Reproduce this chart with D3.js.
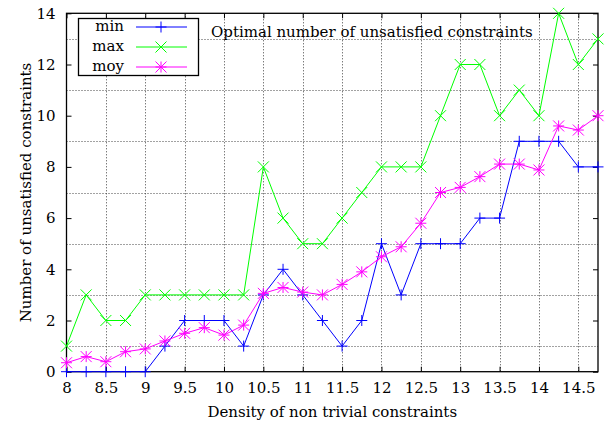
<!DOCTYPE html>
<html><head><meta charset="utf-8">
<script src="https://cdn.jsdelivr.net/npm/d3@7"></script>
<style>
html,body{margin:0;padding:0;background:#fff;}
svg{display:block;}
svg text{font-family:"DejaVu Serif",serif;}
</style></head>
<body><svg id="c" width="608" height="424"></svg>
<script>
const xValues = [8,8.25,8.5,8.75,9,9.25,9.5,9.75,10,10.25,10.5,10.75,11,11.25,11.5,11.75,12,12.25,12.5,12.75,13,13.25,13.5,13.75,14,14.25,14.5,14.75];
const minValues = [0,0,0,0,0,1,2,2,2,1,3,4,3,2,1,2,5,3,5,5,5,6,6,9,9,9,8,8];
const maxValues = [1,3,2,2,3,3,3,3,3,3,8,6,5,5,6,7,8,8,8,10,12,12,10,11,10,14,12,13];
const moyValues = [0.35,0.59,0.39,0.78,0.89,1.2,1.5,1.72,1.43,1.82,3.06,3.29,3.11,3.0,3.41,3.9,4.49,4.88,5.8,7.0,7.2,7.62,8.11,8.11,7.88,9.6,9.44,10.0];
const xTicks = [8,8.5,9,9.5,10,10.5,11,11.5,12,12.5,13,13.5,14,14.5];
const yTicks = [0,2,4,6,8,10,12,14];
const yGrid = [1,3,5,7,9,11,13];
const seriesNames = ["min","max","moy"];
const seriesColors = ["#0000ff","#00ff00","#ff00ff"];
const seriesMarkers = ["plus","cross","star"];
const titleText = "Optimal number of unsatisfied constraints";
const xLabel = "Density of non trivial constraints";
const yLabel = "Number of unsatisfied constraints";

const svg = d3.select("#c");
const L = 66.5, R = 598, T = 13.3, B = 371.7;
const x = d3.scaleLinear().domain([8,14.75]).range([L,R]);
const y = d3.scaleLinear().domain([0,14]).range([B,T]);
const FS = 15;
const FF = "DejaVu Serif";

const g = svg.append("g");
g.selectAll("line.vg").data(xTicks.slice(1)).join("line")
  .attr("x1",d=>Math.round(x(d))+0.5).attr("x2",d=>Math.round(x(d))+0.5)
  .attr("y1",T).attr("y2",B)
  .attr("stroke","#444").attr("stroke-width",1).attr("stroke-dasharray","1,2");
g.selectAll("line.hg").data(yGrid).join("line")
  .attr("y1",d=>Math.round(y(d))+0.5).attr("y2",d=>Math.round(y(d))+0.5)
  .attr("x1",L).attr("x2",R)
  .attr("stroke","#444").attr("stroke-width",1).attr("stroke-dasharray","1,2");

const axB = d3.axisBottom(x).tickValues(xTicks).tickSize(-5).tickPadding(11).tickFormat(d3.format("~g"));
const axT = d3.axisTop(x).tickValues(xTicks).tickSize(-5).tickFormat("");
const axL = d3.axisLeft(y).tickValues(yTicks).tickSize(-5).tickPadding(11).tickFormat(d3.format("d"));
const axR = d3.axisRight(y).tickValues(yTicks).tickSize(-5).tickFormat("");
function style(sel){
  sel.attr("font-family",FF);
  sel.select(".domain").remove();
  sel.selectAll("line").attr("stroke","#000");
  sel.selectAll("text").attr("font-size",FS).attr("font-family",FF).attr("fill","#000");
}
svg.append("g").attr("transform",`translate(0,${B})`).call(axB).call(style);
svg.append("g").attr("transform",`translate(0,${T})`).call(axT).call(style);
svg.append("g").attr("transform",`translate(${L},0)`).call(axL).call(style);
svg.append("g").attr("transform",`translate(${R},0)`).call(axR).call(style);

svg.append("rect").attr("x",L).attr("y",T).attr("width",R-L).attr("height",B-T)
  .attr("fill","none").attr("stroke","#000").attr("stroke-width",1.3);

svg.append("text").attr("x",(L+R)/2).attr("y",417).attr("text-anchor","middle")
  .attr("font-family",FF).attr("font-size",FS).text(xLabel);
svg.append("text").attr("transform",`translate(31,${(T+B)/2}) rotate(-90)`).attr("text-anchor","middle")
  .attr("font-family",FF).attr("font-size",FS).text(yLabel);
svg.append("text").attr("x",211).attr("y",37).attr("font-family",FF).attr("font-size",FS).text(titleText);

function marker(sel, type, cx, cy, color){
  const s = 5.5;
  const p = d3.path();
  if(type==="plus"||type==="star"){p.moveTo(cx-s,cy);p.lineTo(cx+s,cy);p.moveTo(cx,cy-s);p.lineTo(cx,cy+s);}
  if(type==="cross"||type==="star"){p.moveTo(cx-s,cy-s);p.lineTo(cx+s,cy+s);p.moveTo(cx-s,cy+s);p.lineTo(cx+s,cy-s);}
  sel.append("path").attr("d",p.toString()).attr("stroke",color).attr("stroke-width",1).attr("fill","none");
}

const allSeries = [minValues,maxValues,moyValues];
const line = d3.line().x((d,i)=>x(xValues[i])).y(d=>y(d));
allSeries.forEach((vals,k)=>{
  const gs = svg.append("g");
  gs.append("path").datum(vals).attr("d",line).attr("fill","none")
    .attr("stroke",seriesColors[k]).attr("stroke-width",1);
  vals.forEach((v,i)=>marker(gs,seriesMarkers[k],x(xValues[i]),y(v),seriesColors[k]));
});

const lg = svg.append("g");
lg.append("rect").attr("x",78.5).attr("y",18.5).attr("width",120).attr("height",57)
  .attr("fill","#fff").attr("stroke","#000").attr("stroke-width",1.3);
seriesNames.forEach((n,k)=>{
  const yy = 27 + k*20;
  lg.append("text").attr("x",124).attr("y",yy+4).attr("text-anchor","end")
    .attr("font-family",FF).attr("font-size",FS).text(n);
  lg.append("line").attr("x1",136).attr("x2",187).attr("y1",yy).attr("y2",yy)
    .attr("stroke",seriesColors[k]).attr("stroke-width",1);
  marker(lg,seriesMarkers[k],161,yy,seriesColors[k]);
});
</script></body></html>
